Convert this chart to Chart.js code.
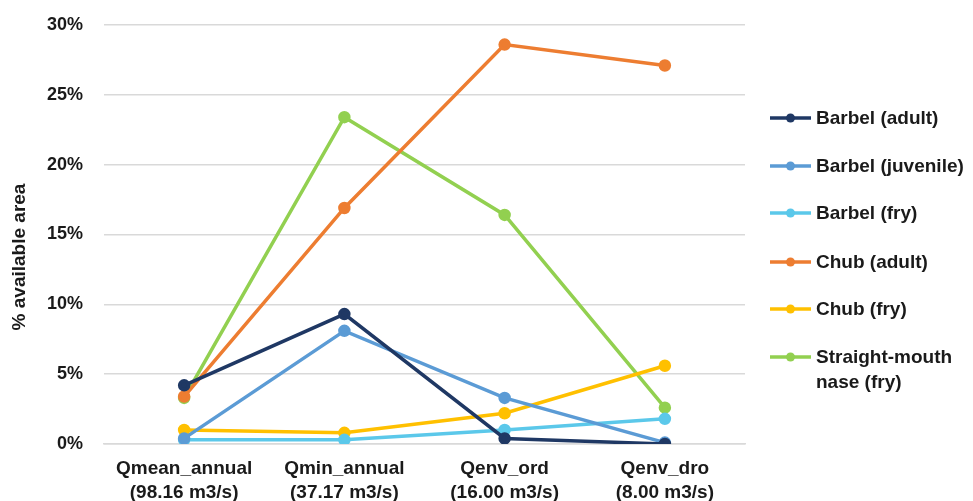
<!DOCTYPE html>
<html>
<head>
<meta charset="utf-8">
<script src="https://cdn.jsdelivr.net/npm/chart.js@4.4.1/dist/chart.umd.min.js"></script>
<style>
  html, body { margin: 0; padding: 0; background: #fff; }
  #wrap { width: 973px; height: 501px; }
</style>
</head>
<body>
<div id="wrap"><canvas id="habitatChart"></canvas></div>
<script>
// flow scenarios (x axis)
const flowLabels = [
    ['Qmean_annual', '(98.16 m3/s)'],
    ['Qmin_annual', '(37.17 m3/s)'],
    ['Qenv_ord', '(16.00 m3/s)'],
    ['Qenv_dro', '(8.00 m3/s)']
];

// % available area per species / life stage
const barbelAdult = [4.2, 9.3, 0.4, 0.0];
const barbelJuvenile = [0.4, 8.1, 3.3, 0.1];
const barbelFry = [0.3, 0.3, 1.0, 1.8];
const chubAdult = [3.4, 16.9, 28.6, 27.1];
const chubFry = [1.0, 0.8, 2.2, 5.6];
const naseFry = [3.3, 23.4, 16.4, 2.6];

const seriesNames = ['Barbel (adult)', 'Barbel (juvenile)', 'Barbel (fry)', 'Chub (adult)', 'Chub (fry)', 'Straight-mouth\nnase (fry)'];
const seriesColors = ['#1F3864', '#5B9BD5', '#5BC8EA', '#ED7D31', '#FFC000', '#92D050'];
const seriesValues = [barbelAdult, barbelJuvenile, barbelFry, chubAdult, chubFry, naseFry];

const yTicks = [0, 5, 10, 15, 20, 25, 30];

const FONT = "'Liberation Sans', Arial, sans-serif";

let datasets = [];
for (let i = 0; i < seriesValues.length; i++) {
    datasets.push({
        label: seriesNames[i],
        data: seriesValues[i],
        borderColor: seriesColors[i],
        backgroundColor: seriesColors[i],
        borderWidth: 3.5,
        pointRadius: 4.5,
        pointHoverRadius: 4.5,
        tension: 0
    });
}

// legend + y title drawn by hand so the two-line label fits
const sideLegend = {
    id: 'sideLegend',
    afterDraw(chart) {
        const ctx = chart.ctx;
        const rowY = [118, 166, 213, 262, 309, 357];
        ctx.save();
        ctx.font = 'bold 19px ' + FONT;
        ctx.textBaseline = 'middle';
        ctx.textAlign = 'left';
        chart.data.datasets.forEach(function (ds, i) {
            let y = rowY[i];
            ctx.strokeStyle = ds.borderColor;
            ctx.lineWidth = 3.5;
            ctx.beginPath();
            ctx.moveTo(770, y);
            ctx.lineTo(811, y);
            ctx.stroke();
            ctx.fillStyle = ds.borderColor;
            ctx.beginPath();
            ctx.arc(790.5, y, 4.5, 0, Math.PI * 2);
            ctx.fill();
            ctx.fillStyle = '#1a1a1a';
            let lines = ds.label.split('\n');
            for (let j = 0; j < lines.length; j++) {
                ctx.fillText(lines[j], 816, y + 1 + j * 25);
            }
        });

        // y axis title
        ctx.font = 'bold 19px ' + FONT;
        ctx.translate(20, 257);
        ctx.rotate(-Math.PI / 2);
        ctx.textAlign = 'center';
        ctx.fillText('% available area', 0, 0);
        ctx.restore();
    }
};

const config = {
    type: 'line',
    data: {
        labels: flowLabels,
        datasets: datasets
    },
    options: {
        responsive: true,
        maintainAspectRatio: false,
        animation: false,
        layout: {
            padding: { top: 25, right: 228, left: 0, bottom: 0 }
        },
        plugins: {
            legend: { display: false },
            tooltip: { enabled: false }
        },
        scales: {
            x: {
                offset: true,
                grid: { display: false, drawTicks: false },
                border: { display: true, color: '#D9D9D9', width: 1.5 },
                ticks: {
                    color: '#1a1a1a',
                    padding: 13,
                    maxRotation: 0,
                    font: { family: FONT, size: 19, weight: 'bold', lineHeight: 1.25 }
                },
                afterFit: function (scale) {
                    scale.height = 501 - 444;
                }
            },
            y: {
                min: 0,
                max: 30,
                afterBuildTicks: function (scale) {
                    scale.ticks = yTicks.map(function (v) { return { value: v }; });
                },
                grid: { color: '#D9D9D9', lineWidth: 1.5, drawTicks: false },
                border: { display: false },
                ticks: {
                    color: '#1a1a1a',
                    padding: 21,
                    font: { family: FONT, size: 18, weight: 'bold' },
                    callback: function (value) { return value + '%'; }
                },
                afterFit: function (scale) {
                    scale.width = 104;
                    scale.paddingTop = 0;
                    scale.paddingBottom = 0;
                }
            }
        }
    },
    plugins: [sideLegend]
};

new Chart(document.getElementById('habitatChart'), config);
</script>
</body>
</html>
